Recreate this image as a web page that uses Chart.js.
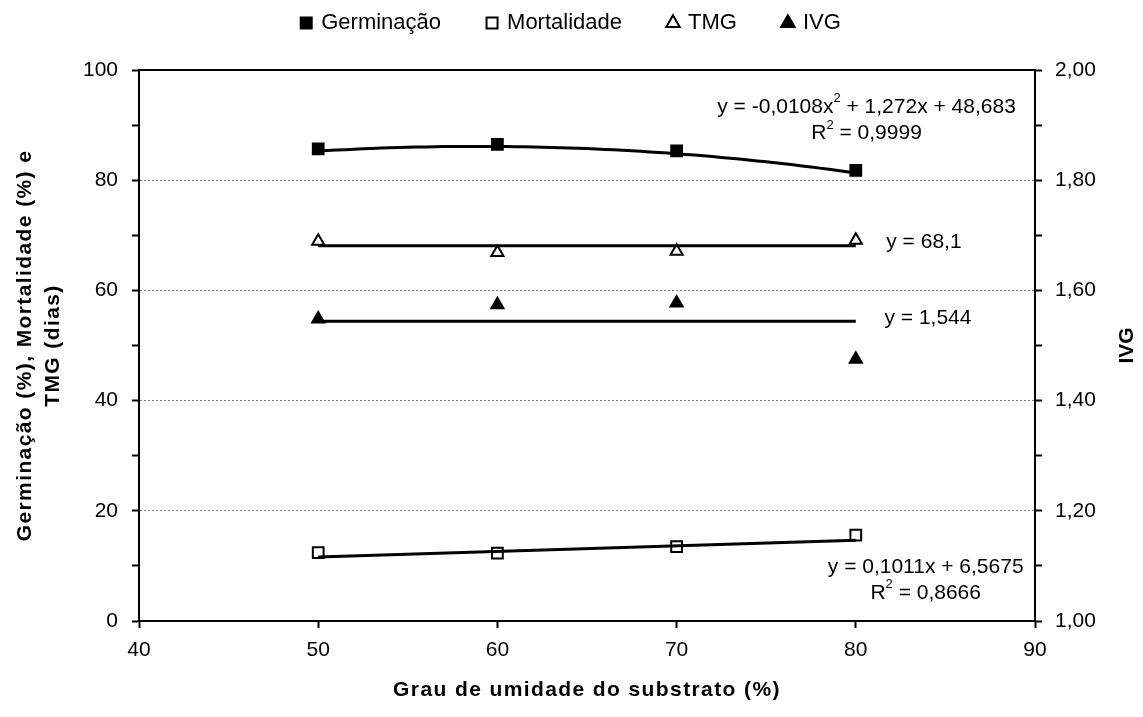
<!DOCTYPE html>
<html>
<head>
<meta charset="utf-8">
<script src="https://cdn.jsdelivr.net/npm/chart.js@4.4.1/dist/chart.umd.min.js"></script>
<style>
  html, body { margin: 0; padding: 0; background: #fff; }
  #wrap { width: 1143px; height: 717px; }
</style>
</head>
<body>
<div id="wrap"><canvas id="c" width="1143" height="717"></canvas></div>
<script>
// Grau de umidade do substrato (%)
const umidade = [50, 60, 70, 80];
// Observed means
const germinacao = [85.7, 86.5, 85.3, 81.8];
const mortalidade = [12.4, 12.3, 13.5, 15.6];
const tmg = [68.9, 66.9, 67.1, 69.1];
const ivg = [1.548, 1.574, 1.577, 1.475];
// Fitted models, coefficients as printed beside each curve
const germFit = [-0.0108, 1.272, 48.683];   // a·x² + b·x + c
const mortFit = [0.1011, 6.5675];           // a·x + b
const tmgFit = 68.1;
const ivgFit = 1.544;
// Axis ranges
const xRange = [40, 90];
const yLeftRange = [0, 100];
const yRightRange = [1, 2];

const FONT = "'Liberation Sans', Arial, Helvetica, sans-serif";
Chart.defaults.font.family = FONT;
Chart.defaults.font.size = 21;
Chart.defaults.color = '#000';

const pts = (ys) => umidade.map((x, i) => ({ x, y: ys[i] }));
const xFirst = umidade[0], xLast = umidade[umidade.length - 1];

// Fitted curves over the observed range
const germCurve = [];
for (let x = xFirst; x <= xLast + 1e-9; x += 0.5) {
  germCurve.push({ x, y: germFit[0] * x * x + germFit[1] * x + germFit[2] });
}
const mortLine = [xFirst, xLast].map(x => ({ x, y: mortFit[0] * x + mortFit[1] }));
const tmgLine = [xFirst, xLast].map(x => ({ x, y: tmgFit }));
const ivgLine = [xFirst, xLast].map(x => ({ x, y: ivgFit }));

// Equation annotations, anchored in data coordinates (left axis units)
const fitLabels = [
  { x: 80.6, y: 93.3, align: 'center', parts: [['y = -0,0108x'], ['2', 1], [' + 1,272x + 48,683']] },
  { x: 80.6, y: 88.5, align: 'center', parts: [['R'], ['2', 1], [' = 0,9999']] },
  { x: 81.7, y: 68.7, align: 'left', parts: [['y = 68,1']] },
  { x: 81.6, y: 55.0, align: 'left', parts: [['y = 1,544']] },
  { x: 83.9, y: 9.8, align: 'center', parts: [['y = 0,1011x + 6,5675']] },
  { x: 83.9, y: 5.1, align: 'center', parts: [['R'], ['2', 1], [' = 0,8666']] }
];

const fitLabelPlugin = {
  id: 'fitLabels',
  afterDatasetsDraw(chart) {
    const { ctx, scales } = chart;
    ctx.save();
    ctx.fillStyle = '#000';
    ctx.textBaseline = 'middle';
    ctx.textAlign = 'left';
    fitLabels.forEach(l => {
      const px = scales.x.getPixelForValue(l.x);
      const py = scales.y.getPixelForValue(l.y);
      let w = 0;
      l.parts.forEach(([t, sup]) => {
        ctx.font = (sup ? 13 : 21) + 'px ' + FONT;
        w += ctx.measureText(t).width;
      });
      let cx = l.align === 'center' ? px - w / 2 : px;
      l.parts.forEach(([t, sup]) => {
        ctx.font = (sup ? 13 : 21) + 'px ' + FONT;
        ctx.fillText(t, cx, sup ? py - 8 : py);
        cx += ctx.measureText(t).width;
      });
    });
    ctx.restore();
  }
};

// Right-hand axis title, read bottom-to-top like the left one
const rightTitlePlugin = {
  id: 'rightTitle',
  afterDraw(chart) {
    const { ctx, chartArea } = chart;
    ctx.save();
    ctx.translate(1127, (chartArea.top + chartArea.bottom) / 2);
    ctx.rotate(-Math.PI / 2);
    ctx.font = 'bold 21px ' + FONT;
    ctx.fillStyle = '#000';
    ctx.textAlign = 'center';
    ctx.textBaseline = 'middle';
    ctx.fillText('IVG', 0, 0);
    ctx.restore();
  }
};

// Slightly looser tracking for the bold axis titles
const titleTracking = {
  id: 'titleTracking',
  afterLayout(chart) {
    ['x', 'y'].forEach(id => {
      const s = chart.scales[id];
      if (!s || s.$tracked) return;
      const orig = s.drawTitle;
      s.drawTitle = function () {
        this.ctx.save();
        this.ctx.letterSpacing = '1.4px';
        orig.apply(this, arguments);
        this.ctx.restore();
      };
      s.$tracked = true;
    });
  }
};

const markerBase = { showLine: false, borderWidth: 2, pointBorderWidth: 2, borderColor: '#000', pointBorderColor: '#000' };
const trendBase = { label: '', showLine: true, borderColor: '#000', borderWidth: 3, pointRadius: 0, pointHoverRadius: 0, fill: false, tension: 0 };

new Chart(document.getElementById('c'), {
  type: 'scatter',
  data: {
    datasets: [
      { ...trendBase, data: germCurve, yAxisID: 'y' },
      { ...trendBase, data: mortLine, yAxisID: 'y' },
      { ...trendBase, data: tmgLine, yAxisID: 'y' },
      { ...trendBase, data: ivgLine, yAxisID: 'y2' },
      { ...markerBase, label: 'Germinação', data: pts(germinacao), yAxisID: 'y', pointStyle: 'rect', pointRadius: 7.6, backgroundColor: '#000', pointBackgroundColor: '#000' },
      { ...markerBase, label: 'Mortalidade', data: pts(mortalidade), yAxisID: 'y', pointStyle: 'rect', pointRadius: 7.6, backgroundColor: '#fff', pointBackgroundColor: '#fff' },
      { ...markerBase, label: 'TMG', data: pts(tmg), yAxisID: 'y', pointStyle: 'triangle', pointRadius: 7, backgroundColor: '#fff', pointBackgroundColor: '#fff' },
      { ...markerBase, label: 'IVG', data: pts(ivg), yAxisID: 'y2', pointStyle: 'triangle', pointRadius: 7, backgroundColor: '#000', pointBackgroundColor: '#000' }
    ]
  },
  options: {
    responsive: false,
    animation: false,
    events: [],
    layout: { padding: { top: -35, left: 0, right: 0, bottom: 0 } },
    plugins: {
      tooltip: { enabled: false },
      legend: {
        position: 'top',
        labels: {
          usePointStyle: true,
          boxWidth: 8,
          boxHeight: 11,
          padding: 47,
          font: { size: 22 },
          color: '#000',
          filter: item => item.text !== ''
        }
      }
    },
    scales: {
      x: {
        type: 'linear', position: 'bottom',
        min: xRange[0], max: xRange[1],
        ticks: { stepSize: 10, padding: 10, color: '#000', font: { size: 21 } },
        grid: { drawOnChartArea: false, drawTicks: true, tickLength: 7, tickColor: '#000', tickWidth: 2 },
        border: { display: true, color: '#000', width: 2 },
        title: { display: true, text: 'Grau de umidade do substrato (%)', font: { size: 21, weight: 'bold' }, color: '#000', padding: { top: 0, bottom: 14 } },
        afterFit(s) { s.height = 96; }
      },
      x2: {
        type: 'linear', position: 'top',
        min: xRange[0], max: xRange[1],
        ticks: { display: false },
        grid: { display: false, drawTicks: false },
        border: { display: true, color: '#000', width: 2 },
        afterFit(s) { s.height = 26; }
      },
      y: {
        type: 'linear', position: 'left',
        min: yLeftRange[0], max: yLeftRange[1],
        ticks: {
          stepSize: 10, padding: 14, color: '#000', font: { size: 21 }, autoSkip: false,
          callback: v => (v % 20 === 0 ? String(v) : '')
        },
        grid: {
          drawOnChartArea: true, drawTicks: true, tickLength: 7, tickWidth: 2, tickColor: '#000',
          lineWidth: 1,
          color: c => (c.tick && c.tick.value % 20 === 0 && c.tick.value > 0 && c.tick.value < 100) ? '#7f7f7f' : 'rgba(0,0,0,0)'
        },
        border: { display: true, color: '#000', width: 2, dash: [2, 2] },
        title: {
          display: true,
          text: ['Germinação (%), Mortalidade (%) e', 'TMG (dias)'],
          font: { size: 21, weight: 'bold', lineHeight: 1.35 },
          color: '#000',
          padding: { top: 11, bottom: 0 }
        },
        afterFit(s) { s.width = 139; }
      },
      y2: {
        type: 'linear', position: 'right',
        min: yRightRange[0], max: yRightRange[1],
        ticks: {
          stepSize: 0.1, padding: 13, color: '#000', font: { size: 21 }, autoSkip: false,
          callback: v => (Math.round(v * 10) % 2 === 0 ? v.toFixed(2).replace('.', ',') : '')
        },
        grid: { drawOnChartArea: false, drawTicks: true, tickLength: 7, tickWidth: 2, tickColor: '#000' },
        border: { display: true, color: '#000', width: 2 },
        afterFit(s) { s.width = 108; }
      }
    }
  },
  plugins: [fitLabelPlugin, rightTitlePlugin, titleTracking]
});
</script>
</body>
</html>
